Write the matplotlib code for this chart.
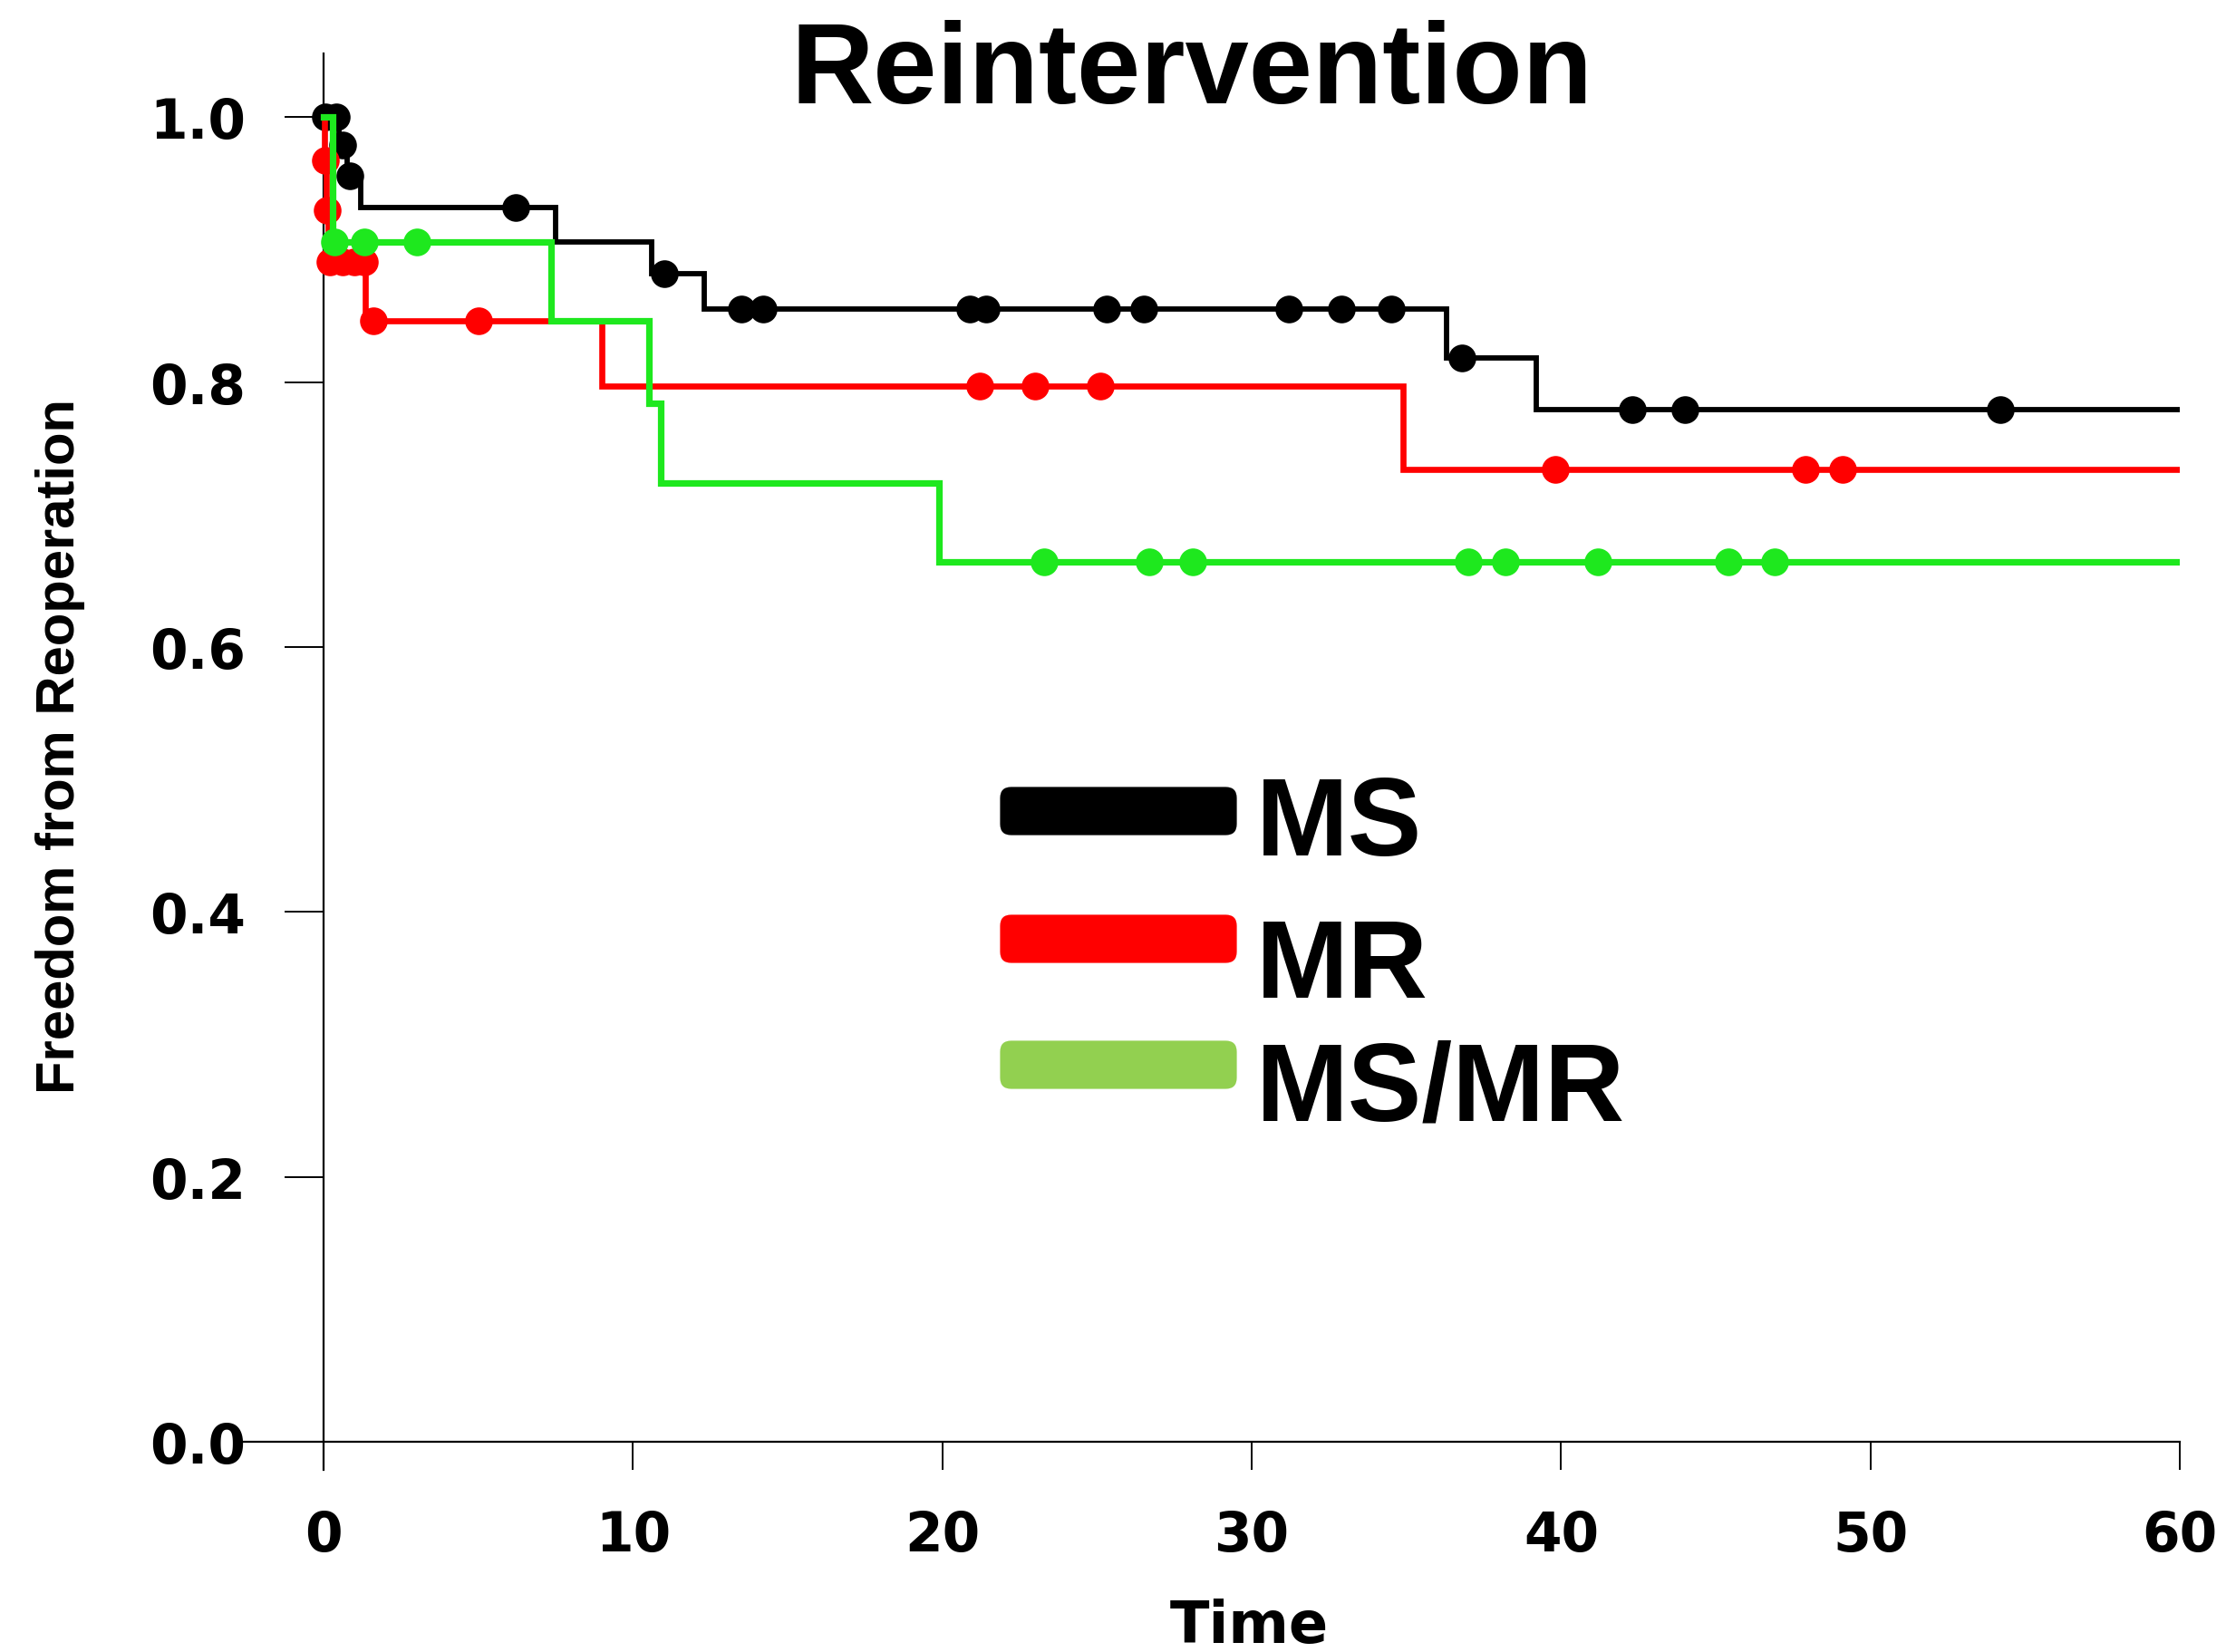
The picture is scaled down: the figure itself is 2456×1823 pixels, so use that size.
import numpy as np
import matplotlib
matplotlib.use("Agg")
import matplotlib.pyplot as plt
from matplotlib.patches import FancyBboxPatch

# Kaplan-Meier style data (time in months)
groups = ["MS", "MR", "MS/MR"]

ms_event_t = [0.5, 0.75, 1.2, 7.5, 10.6, 12.3, 36.3, 39.2]
ms_surv = [0.979, 0.956, 0.932, 0.906, 0.882, 0.855, 0.818, 0.779]
ms_censor_t = [0.05, 0.4, 0.6, 0.85, 6.2, 11.0, 13.5, 14.2, 20.9, 21.4, 25.3,
               26.5, 31.2, 32.9, 34.5, 36.8, 42.3, 44.0, 54.2]

mr_event_t = [0.02, 0.08, 0.15, 1.35, 9.0, 34.9]
mr_surv = [0.967, 0.930, 0.891, 0.846, 0.797, 0.734]
mr_censor_t = [0.05, 0.1, 0.2, 0.6, 1.0, 1.3, 1.6, 5.0, 21.2, 23.0, 25.1,
               39.8, 47.9, 49.1]

msmr_event_t = [0.3, 7.35, 10.5, 10.9, 19.9]
msmr_surv = [0.906, 0.846, 0.784, 0.724, 0.664]
msmr_censor_t = [0.35, 1.3, 3.0, 23.3, 26.7, 28.1, 37.0, 38.2, 41.2, 45.4, 46.9]

t_end = 60
xticks = [0, 10, 20, 30, 40, 50, 60]
yticks = [0.0, 0.2, 0.4, 0.6, 0.8, 1.0]

curve_colors = ["#000000", "#ff0000", "#1ee81e"]
legend_colors = ["#000000", "#ff0000", "#92d050"]
curve_lw = [4.2, 4.8, 5.2]

series = [(ms_event_t, ms_surv, ms_censor_t),
          (mr_event_t, mr_surv, mr_censor_t),
          (msmr_event_t, msmr_surv, msmr_censor_t)]

fig = plt.figure(figsize=(24.56, 18.24), dpi=100)
ax = fig.add_axes([265/2456, 201/1824, 2140/2456, 1563/1824])

for i in [0, 2, 1]:
    ev, sv, cen = series[i]
    t = np.concatenate([[0], ev, [t_end]])
    s = np.concatenate([[1.0], sv, [sv[-1]]])
    ax.step(t, s, where="post", color=curve_colors[i], lw=curve_lw[i],
            solid_joinstyle="miter", zorder=2 + i)
    idx = np.searchsorted(t, cen, side="right") - 1
    ax.plot(cen, s[idx], "o", ms=22, color=curve_colors[i], mec="none",
            zorder=2 + i)

ax.set_xlim(-2.7, 60)
ax.set_ylim(-0.021, 1.048)
ax.spines["left"].set_position(("data", 0))
ax.spines["bottom"].set_position(("data", 0))
ax.spines["top"].set_visible(False)
ax.spines["right"].set_visible(False)
for sp in ["left", "bottom"]:
    ax.spines[sp].set_linewidth(1.6)

ax.set_xticks(xticks)
ax.set_yticks(yticks)
ax.set_yticklabels(["%.1f" % v for v in yticks])
ax.tick_params(axis="x", direction="out", length=22, width=1.4, pad=31)
ax.tick_params(axis="y", direction="out", length=31, width=1.4, pad=31)
for lab in ax.get_xticklabels() + ax.get_yticklabels():
    lab.set_fontfamily("DejaVu Sans")
    lab.set_fontweight("bold")
    lab.set_fontsize(43)

# titles and axis labels
fig.text(1315/2456, 1 - 114/1824, "Reintervention", ha="center", va="baseline",
         fontsize=91, fontweight="bold", family=["Liberation Sans", "DejaVu Sans"])
fig.text(67/2456, 1 - 824/1824, "Freedom from Reoperation", rotation=90,
         ha="center", va="center", fontsize=43, fontweight="bold",
         family=["Liberation Sans", "DejaVu Sans"])
fig.text(1378/2456, 1 - 1813/1824, "Time", ha="center", va="baseline",
         fontsize=46, fontweight="bold", family="DejaVu Sans")

# legend drawn by hand
leg_y = [896, 1037, 1176]
leg_base = [944, 1101, 1237]
for i, name in enumerate(groups):
    yc = 1 - leg_y[i]/1824
    h = 44/1824
    fig.add_artist(FancyBboxPatch((1112/2456, yc - h/2 + 4/1824), 244/2456, h - 8/1824,
                                  boxstyle="round,pad=0.0035,rounding_size=0.005",
                                  transform=fig.transFigure, facecolor=legend_colors[i],
                                  edgecolor="none", mutation_aspect=2456/1824))
    fig.text(1386/2456, 1 - leg_base[i]/1824, name, ha="left", va="baseline",
             fontsize=88, fontweight="bold", family=["Liberation Sans", "DejaVu Sans"])

fig.savefig("out.png", dpi=100)
